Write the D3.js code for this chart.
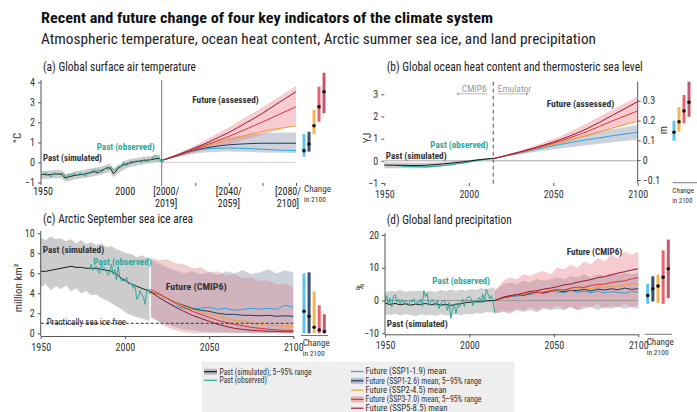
<!DOCTYPE html>
<html><head><meta charset="utf-8">
<script src="https://cdn.jsdelivr.net/npm/d3@7"></script>
<style>
body{margin:0;background:#fff;}
svg{display:block;font-family:"Liberation Sans Narrow","Arial Narrow","Roboto Condensed",sans-serif;}
</style></head><body>
<svg id="c" width="697" height="412"></svg>
<script>
// ---------------- DATA ----------------
const scenarios = ["SSP1-1.9","SSP1-2.6","SSP2-4.5","SSP3-7.0","SSP5-8.5"];
const lineColors = ["#27a9dc","#1d3a63","#f2a02c","#e0303c","#9a1a2c"];
const barColors  = ["#5ac4ea","#33506f","#f5b54c","#e9606e","#c4586a"];

// (a) Global surface air temperature (°C, rel. 1995-2014)
const aPastYears = d3.range(1950, 2020);
const aSim = [-0.62,-0.60,-0.60,-0.61,-0.62,-0.60,-0.60,-0.58,-0.58,-0.58,
  -0.57,-0.58,-0.60,-0.68,-0.78,-0.76,-0.72,-0.70,-0.68,-0.66,
  -0.64,-0.63,-0.62,-0.60,-0.60,-0.58,-0.56,-0.54,-0.52,-0.50,
  -0.48,-0.46,-0.50,-0.52,-0.45,-0.40,-0.36,-0.32,-0.28,-0.27,
  -0.26,-0.40,-0.56,-0.48,-0.36,-0.28,-0.22,-0.16,-0.12,-0.10,
  -0.06,-0.04,-0.02,0.00,0.02,0.04,0.05,0.06,0.08,0.09,
  0.10,0.11,0.12,0.13,0.14,0.16,0.18,0.19,0.20,0.21];
const aObs = [-0.66,-0.58,-0.56,-0.50,-0.64,-0.66,-0.72,-0.56,-0.52,-0.56,
  -0.60,-0.54,-0.56,-0.54,-0.72,-0.68,-0.62,-0.60,-0.64,-0.54,
  -0.56,-0.66,-0.58,-0.48,-0.64,-0.62,-0.70,-0.48,-0.54,-0.46,
  -0.40,-0.36,-0.48,-0.34,-0.46,-0.48,-0.42,-0.30,-0.26,-0.36,
  -0.22,-0.24,-0.38,-0.34,-0.28,-0.18,-0.26,-0.14,0.04,-0.14,
  -0.14,-0.02,0.04,0.05,0.01,0.10,0.06,0.08,-0.01,0.10,
  0.16,0.03,0.08,0.12,0.16,0.28,0.36,0.30,0.22,0.10];
const aBandYears = [1950,1955,1960,1962,1964,1966,1970,1975,1980,1985,1990,1992,1994,2000,2005,2010,2015,2019];
const aBandLo = [-0.82,-0.80,-0.78,-0.80,-0.96,-0.92,-0.84,-0.78,-0.70,-0.60,-0.46,-0.74,-0.58,-0.26,-0.16,-0.08,-0.02,0.02];
const aBandHi = [-0.42,-0.40,-0.38,-0.40,-0.58,-0.54,-0.44,-0.38,-0.28,-0.20,-0.06,-0.34,-0.18,0.14,0.22,0.29,0.34,0.38];
const aObsFillYears = [2000,2002,2004,2006,2008,2010,2012,2014,2016,2019];
const aObsFill = [0.02,0.05,0.06,0.08,0.08,0.14,0.12,0.18,0.32,0.10];
const aFutYears = [2000,2010,2020,2030,2040,2050,2060,2070,2080];
const aFutLabels = [["[2000/","2019]"],["[2040/","2059]"],["[2080/","2100]"]];
const aFutLabelYears = [2000,2040,2080];
const aF119 = [0.1,0.35,0.6,0.7,0.72,0.7,0.66,0.62,0.59];
const aF126 = [0.1,0.36,0.62,0.78,0.88,0.93,0.96,0.96,0.96];
const aF245 = [0.1,0.37,0.65,0.9,1.12,1.35,1.55,1.7,1.82];
const aF370 = [0.1,0.37,0.66,0.98,1.3,1.65,2.02,2.4,2.78];
const aF585 = [0.1,0.4,0.72,1.1,1.5,1.96,2.45,3.0,3.53];
const aB370Lo = [0.1,0.3,0.5,0.7,0.92,1.15,1.38,1.62,1.87];
const aB370Hi = [0.1,0.45,0.85,1.3,1.75,2.25,2.75,3.28,3.82];
const aB126Lo = [0.1,0.28,0.45,0.52,0.55,0.53,0.5,0.48,0.47];
const aB126Hi = [0.1,0.45,0.82,1.05,1.25,1.38,1.45,1.48,1.49];
const aChgMid = [0.59,0.92,1.83,2.78,3.53];
const aChgLo  = [0.29,0.54,1.42,2.03,2.45];
const aChgHi  = [1.42,1.53,2.62,3.78,4.48];
const aYTicks = [-1,0,1,2,3,4];

// (b) Ocean heat content (YJ) / thermosteric sea level (m)
const bSimYears = [1950,1955,1960,1965,1970,1975,1980,1985,1990,1995,2000,2005,2010,2014.5];
const bSim = [-0.19,-0.2,-0.2,-0.21,-0.21,-0.2,-0.17,-0.14,-0.1,-0.06,-0.01,0.04,0.08,0.11];
const bBandLo = [-0.33,-0.33,-0.34,-0.34,-0.33,-0.31,-0.27,-0.23,-0.18,-0.12,-0.06,0.0,0.05,0.09];
const bBandHi = [-0.06,-0.07,-0.07,-0.08,-0.09,-0.09,-0.08,-0.06,-0.03,0.0,0.03,0.07,0.1,0.13];
const bObsYears = [1958,1962,1966,1970,1974,1978,1982,1986,1990,1994,1998,2002,2006,2010,2014.5];
const bObs = [-0.22,-0.24,-0.25,-0.26,-0.27,-0.26,-0.24,-0.21,-0.17,-0.12,-0.08,-0.03,0.02,0.07,0.11];
const bFutYears = [2014.5,2030,2050,2070,2085,2100];
const bF119 = [0.1,0.35,0.68,0.95,1.13,1.29];
const bF245 = [0.1,0.37,0.75,1.15,1.48,1.79];
const bF370 = [0.1,0.38,0.8,1.32,1.8,2.25];
const bF585 = [0.1,0.4,0.85,1.45,2.05,2.67];
const bB370Lo = [0.1,0.33,0.68,1.1,1.45,1.8];
const bB370Hi = [0.1,0.45,0.98,1.7,2.3,2.9];
const bBGrayLo = [0.1,0.28,0.52,0.7,0.84,0.95];
const bBGrayHi = [0.1,0.4,0.8,1.2,1.42,1.62];
const bChgScen = [0,2,3,4];
const bChgMid = [0.141,0.194,0.248,0.292];
const bChgLo  = [0.098,0.144,0.186,0.219];
const bChgHi  = [0.199,0.267,0.329,0.396];
const bYTicks = [-1,0,1,2,3];
const bMTicks = [-0.1,0,0.1,0.2,0.3];
const xTicks = [1950,2000,2050,2100];

// (c) Arctic September sea ice area (million km²)
const cdPastYears = [1950,1953,1956,1959,1962,1965,1968,1971,1974,1977,1980,1983,1986,1989,1992,1995,1998,2001,2004,2007,2010,2015];
const cSim = [6.2,6.2,6.3,6.4,6.5,6.6,6.7,6.6,6.6,6.5,6.5,6.5,6.4,6.3,6.2,5.9,5.5,5.2,4.9,4.7,4.5,4.2];
const cBandHi = [9.6,9.3,9.7,9.4,9.5,9.2,9.4,9.0,9.3,8.9,9.1,8.8,9.0,8.6,8.7,8.4,8.2,8.0,7.9,7.6,7.8,7.4];
const cBandLo = [4.6,4.9,4.3,4.7,4.4,4.8,4.2,4.5,4.0,4.2,3.8,3.9,3.5,3.3,3.0,2.7,2.4,2.0,1.8,1.6,1.5,1.2];
const cObsYears = d3.range(1979, 2016);
const cObs = [6.4,6.9,6.3,6.6,6.7,6.2,6.0,6.8,6.6,6.5,6.3,5.8,6.0,6.9,5.9,6.4,5.3,6.7,5.6,5.2,5.3,5.2,5.6,4.9,5.0,5.0,4.5,4.9,3.4,3.6,4.3,3.9,3.6,2.9,4.3,4.4,3.9];
const cFutYears = [2015,2020,2025,2030,2035,2040,2045,2050,2055,2060,2065,2070,2075,2080,2085,2090,2095,2100];
const cF119 = [4.2,3.6,3.1,2.7,2.5,2.4,2.5,2.6,2.4,2.5,2.3,2.4,2.5,2.4,2.5,2.4,2.8,2.6];
const cF126 = [4.1,3.9,3.5,3.1,2.8,2.5,2.3,2.2,2.0,1.9,1.9,1.8,1.8,1.75,1.8,1.7,1.75,1.7];
const cF245 = [4.2,3.9,3.5,3.1,2.7,2.4,2.1,1.9,1.7,1.5,1.3,1.2,1.0,0.9,0.8,0.75,0.7,0.65];
const cF370 = [4.4,4.0,3.5,3.0,2.6,2.2,1.9,1.6,1.3,1.1,0.9,0.75,0.6,0.5,0.4,0.35,0.3,0.3];
const cF585 = [4.2,3.6,3.1,2.6,2.2,1.8,1.5,1.2,0.9,0.7,0.5,0.4,0.3,0.25,0.2,0.2,0.15,0.15];
const cB370Hi = [7.6,7.3,7.4,7.0,6.9,6.5,6.6,6.1,6.2,5.8,5.9,5.5,5.6,5.2,5.3,4.9,5.0,4.6];
const cB370Lo = [1.8,1.1,0.6,0.3,0.1,0,0,0,0,0,0,0,0,0,0,0,0,0];
const cB126Hi = [7.4,7.0,6.6,6.3,6.0,6.2,5.9,6.1,5.8,6.2,6.0,6.3,5.9,6.1,6.4,6.0,6.3,6.1];
const cB126Lo = [1.6,1.2,0.9,0.6,0.4,0.3,0.2,0.15,0.1,0.1,0.05,0.05,0,0,0,0,0,0];
const cIceFree = 1;
const cChgMid = [2.2,1.7,0.6,0.33,0.17];
const cChgLo  = [0,0,0,0,0];
const cChgHi  = [6.0,6.1,4.2,2.8,1.9];
const cYTicks = [0,2,4,6,8,10];

// (d) Global land precipitation (%)
const dSim = [-0.8,-1.2,-0.9,-1.3,-1.0,-1.4,-1.1,-1.2,-0.9,-1.3,-1.0,-1.4,-1.2,-1.5,-1.1,-1.0,-0.6,-0.5,-0.3,-0.4,-0.1,0.0];
const dBandHi = [2.5,3.0,2.8,3.2,2.6,3.0,2.8,3.1,2.7,3.0,2.6,3.2,2.8,3.4,2.9,3.3,3.0,3.5,3.2,3.8,3.5,4.0];
const dBandLo = [-4.2,-4.5,-4.0,-4.6,-4.2,-4.4,-4.8,-4.2,-4.5,-4.3,-4.7,-4.1,-4.6,-4.4,-4.2,-4.5,-4.0,-4.3,-3.8,-4.0,-3.5,-3.8];
const dObsYears = d3.range(1950, 2016);
const dObs = [-0.5,1.5,-1.0,0.8,-2.0,1.2,1.8,-0.5,0.5,-1.0,
  0.3,-0.8,0.2,-0.6,-1.5,0.2,-0.5,0.6,-1.2,-0.4,
  -0.8,0.5,-1.8,3.0,1.2,2.2,-1.5,-0.5,0.4,-0.8,
  -1.5,0.2,-2.5,-1.0,-0.3,0.2,-1.2,-3.0,-0.5,-5.5,
  -2.5,-1.0,-4.0,-1.5,-2.0,-0.8,0.5,-1.8,0.2,1.0,
  1.2,0.5,-1.5,0.0,-0.8,0.3,1.0,-0.6,2.0,-0.5,
  3.5,2.0,0.5,1.5,-0.5,-3.5];
const dFutYears = [2015,2020,2024,2028,2032,2036,2040,2044,2048,2052,2056,2060,2064,2068,2072,2076,2080,2084,2088,2092,2096,2100];
const dF119 = [0,0.8,1.5,1.2,2.0,1.8,2.5,2.2,3.0,2.6,2.4,3.0,2.5,2.8,2.4,2.9,2.3,2.7,2.5,2.2,2.8,2.5];
const dF126 = [0,1.0,1.2,1.8,1.5,2.2,2.5,2.3,2.8,3.0,2.7,3.2,3.0,3.4,2.9,3.5,3.2,3.6,3.3,3.8,3.4,3.6];
const dF245 = [0,0.9,1.4,1.6,2.0,2.4,2.2,2.8,3.0,2.8,3.4,3.2,3.6,3.9,3.6,4.2,4.0,4.5,4.3,4.8,5.2,5.0];
const dF370 = [0,0.8,1.2,1.7,1.6,2.3,2.6,2.5,3.0,3.4,3.2,3.8,4.1,4.0,4.6,4.9,5.0,5.5,5.8,6.0,6.6,7.0];
const dF585 = [0,1.0,1.5,1.8,2.3,2.8,3.0,3.5,3.8,4.2,4.8,5.0,5.6,6.0,6.4,7.0,7.3,7.8,8.4,8.8,9.3,9.7];
const dB370Hi = [3,6,7,6.5,8,7.5,8.5,9,8,10,9.5,11,10,12,11,13,12,14,13,15,14,15];
const dB370Lo = [-4,-3,-3.5,-2.5,-3,-2,-3,-2,-2.5,-1.5,-2.5,-2,-3,-1.5,-2,-1,-2.5,-1.5,-2,-1,-2,-1.5];
const dB126Hi = [3,5,5.5,5,6,5.5,6.5,6,6.5,7,6.5,7.5,7,8,7,8,7.5,8.5,8,8.5,8,8.5];
const dB126Lo = [-4,-3.5,-4,-3,-3.5,-3,-3.5,-2.5,-3,-2.5,-3,-2,-3,-2.5,-2,-3,-2,-2.5,-2,-2.5,-2,-2.5];
const dChgMid = [1.5,3.6,4.4,7.1,9.7];
const dChgLo  = [-1,-0.3,-0.7,-1,0.7];
const dChgHi  = [5.1,7.4,7.9,15.3,18.6];
const dYTicks = [-10,0,10,20];

const legendLeft = ["Past (simulated); 5–95% range","Past (observed)"];
const legendRight = ["Future (SSP1-1.9) mean","Future (SSP1-2.6) mean; 5–95% range","Future (SSP2-4.5) mean","Future (SSP3-7.0) mean; 5–95% range","Future (SSP5-8.5) mean"];

// ---------------- DRAWING ----------------
const svg = d3.select("#c");
const OBS = "#2fa89c", SIM = "#1a1a1a";
const GRAYBAND = "#9a9a9a", BLUEBAND = "#8d9ab0", PINKBAND = "#e8808a";
const fmt = d3.format("~g");

function txt(x, y, s, o = {}) {
  const t = svg.append("text").attr("x", x).attr("y", y).attr("dy", "0.35em").text(s)
    .attr("font-size", o.size || 10).attr("fill", o.fill || "#222")
    .attr("font-weight", o.weight || "normal").attr("text-anchor", o.anchor || "start");
  if (o.w) t.attr("textLength", o.w).attr("lengthAdjust", "spacingAndGlyphs");
  if (o.rot) t.attr("transform", `rotate(${o.rot},${x},${y})`);
  return t;
}
function drawLine(years, vals, x, y, color, w = 1, curve = d3.curveLinear) {
  svg.append("path").datum(d3.zip(years, vals))
    .attr("d", d3.line().x(d => x(d[0])).y(d => y(d[1])).curve(curve))
    .attr("fill", "none").attr("stroke", color).attr("stroke-width", w).attr("stroke-linejoin", "round");
}
function drawBand(years, lo, hi, x, y, fill, op, curve = d3.curveLinear) {
  svg.append("path").datum(d3.zip(years, lo, hi))
    .attr("d", d3.area().x(d => x(d[0])).y0(d => y(d[1])).y1(d => y(d[2])).curve(curve))
    .attr("fill", fill).attr("opacity", op);
}
function hline(x1, x2, y, color, w = 1, dash = null) {
  const l = svg.append("line").attr("x1", x1).attr("x2", x2).attr("y1", y).attr("y2", y)
    .attr("stroke", color).attr("stroke-width", w);
  if (dash) l.attr("stroke-dasharray", dash);
}
function vline(x, y1, y2, color, w = 1, dash = null) {
  const l = svg.append("line").attr("x1", x).attr("x2", x).attr("y1", y1).attr("y2", y2)
    .attr("stroke", color).attr("stroke-width", w);
  if (dash) l.attr("stroke-dasharray", dash);
}
function styleAxis(g, keepDomain = false) {
  g.attr("font-family", null).attr("font-size", null);
  if (!keepDomain) g.select(".domain").remove();
  else g.select(".domain").attr("stroke", "#555");
  g.selectAll(".tick line").attr("stroke", "#555");
  g.selectAll(".tick text").attr("font-size", 10).attr("fill", "#333");
}
function drawChange(xs, y, lo, hi, mid, idx) {
  idx.forEach((k, i) => {
    const x = xs(scenarios[k]);
    svg.append("line").attr("x1", x).attr("x2", x).attr("y1", y(lo[i])).attr("y2", y(hi[i]))
      .attr("stroke", barColors[k]).attr("stroke-width", 3);
    svg.append("circle").attr("cx", x).attr("cy", y(mid[i])).attr("r", 1.8).attr("fill", "#111");
  });
}
function changeLabel(x, y, wc = 27, wi = 22, sc = 9.5, si = 7.5) {
  txt(x, y, "Change", { size: sc, fill: "#333", w: wc });
  txt(x, y + 11, "in 2100", { size: si, fill: "#333", w: wi });
}

// Titles
svg.append("text").attr("x", 41).attr("y", 23).text("Recent and future change of four key indicators of the climate system")
  .attr("font-size", 15).attr("font-weight", "bold").attr("fill", "#111")
  .attr("textLength", 452).attr("lengthAdjust", "spacingAndGlyphs");
svg.append("text").attr("x", 41).attr("y", 43.5).text("Atmospheric temperature, ocean heat content, Arctic summer sea ice, and land precipitation")
  .attr("font-size", 15.5).attr("fill", "#222")
  .attr("textLength", 555).attr("lengthAdjust", "spacingAndGlyphs");

// ===== Panel (a) =====
const xPA = d3.scaleLinear().domain([1950, 2020]).range([41, 161.7]);
const xFA = d3.scaleLinear().domain([2000, 2080]).range([161.7, 296]);
const yA = d3.scaleLinear().domain([-1, 4]).range([182.5, 82.3]);
txt(43, 67, "(a) Global surface air temperature", { size: 12, w: 153 });
hline(161.7, 296, yA(0), "#d0d0d0", 1);
drawBand(aFutYears, aB126Lo, aB126Hi, xFA, yA, BLUEBAND, 0.45, d3.curveMonotoneX);
drawBand(aFutYears, aB370Lo, aB370Hi, xFA, yA, PINKBAND, 0.4, d3.curveMonotoneX);
[aF119, aF126, aF245, aF370, aF585].forEach((s, i) => drawLine(aFutYears, s, xFA, yA, lineColors[i], 1, d3.curveMonotoneX));
drawBand(aObsFillYears, aObsFillYears.map(() => 0), aObsFill, xPA, yA, OBS, 0.18);
drawBand(aBandYears, aBandLo, aBandHi, xPA, yA, GRAYBAND, 0.5);
drawLine(aPastYears, aSim, xPA, yA, SIM, 1);
drawLine(aPastYears, aObs, xPA, yA, OBS, 1);
svg.append("circle").attr("cx", xFA(2000)).attr("cy", yA(aF119[0])).attr("r", 2).attr("fill", OBS);
vline(161.7, 80, 186, "#777", 1);
vline(41, 80, 185, "#555", 1);
svg.append("g").attr("transform", "translate(41,0)")
  .call(d3.axisLeft(yA).tickValues(aYTicks).tickSize(3).tickPadding(3).tickFormat(fmt)).call(styleAxis);
svg.append("g").attr("transform", "translate(0,183)")
  .call(d3.axisBottom(xFA).tickValues([2020, 2040, 2060, 2080]).tickSize(3).tickFormat("")).call(styleAxis);
txt(xPA(1950) + 2, 191.7, "1950", { anchor: "middle" });
txt(xPA(2000) - 2, 191.7, "2000", { anchor: "middle" });
const aLabelShift = [4.5, 0, -8];
aFutLabelYears.forEach((yr, i) => {
  txt(xFA(yr) + aLabelShift[i], 191.7, aFutLabels[i][0], { anchor: "middle" });
  txt(xFA(yr) + aLabelShift[i], 203.3, aFutLabels[i][1], { anchor: "middle" });
});
txt(17, 138, "°C", { size: 11, anchor: "middle", rot: -90, fill: "#333" });
txt(43, 157.3, "Past (simulated)", { size: 9.5, weight: "bold", fill: "#333", w: 59 });
txt(96.7, 146.7, "Past (observed)", { size: 9.5, weight: "bold", fill: OBS, w: 58 });
txt(192.3, 99.3, "Future (assessed)", { size: 9.5, weight: "bold", fill: "#333", w: 66.5 });
const xsA = d3.scalePoint().domain(scenarios).range([304, 324]);
drawChange(xsA, yA, aChgLo, aChgHi, aChgMid, [0, 1, 2, 3, 4]);
changeLabel(304, 188.3);

// ===== Panel (b) =====
const xB = d3.scaleLinear().domain([1950, 2100]).range([384.3, 637.7]);
const yB = d3.scaleLinear().domain([-1, 3]).range([183, 94.3]);
const mB = d3.scaleLinear().domain([-0.1, 0.3]).range([180, 100.7]);
txt(386.7, 67, "(b) Global ocean heat content and thermosteric sea level", { size: 12, w: 256 });
hline(384.3, 637.7, yB(0), "#aaa", 1);
drawBand(bFutYears, bBGrayLo, bBGrayHi, xB, yB, BLUEBAND, 0.45, d3.curveMonotoneX);
drawBand(bFutYears, bB370Lo, bB370Hi, xB, yB, PINKBAND, 0.4, d3.curveMonotoneX);
[[bF119, 0], [bF245, 2], [bF370, 3], [bF585, 4]].forEach(([s, k]) => drawLine(bFutYears, s, xB, yB, lineColors[k], 1, d3.curveMonotoneX));
drawBand(bSimYears, bBandLo, bBandHi, xB, yB, GRAYBAND, 0.5, d3.curveMonotoneX);
drawLine(bObsYears, bObs, xB, yB, OBS, 1.2, d3.curveMonotoneX);
drawLine(bSimYears, bSim, xB, yB, SIM, 1, d3.curveMonotoneX);
vline(xB(2014.5), 81.7, 186.7, "#555", 1, "4,3");
vline(637.7, 81.7, 183, "#555", 1);
svg.append("g").attr("transform", "translate(384.3,0)")
  .call(d3.axisLeft(yB).tickValues(bYTicks).tickSize(3).tickPadding(3).tickFormat(fmt)).call(styleAxis);
svg.append("g").attr("transform", "translate(637.7,0)")
  .call(d3.axisRight(mB).tickValues(bMTicks).tickSize(3).tickPadding(2).tickFormat(fmt)).call(styleAxis);
svg.append("g").attr("transform", "translate(0,183)")
  .call(d3.axisBottom(xB).tickValues(xTicks).tickSize(3).tickPadding(5).tickFormat(d3.format("d"))).call(styleAxis);
txt(366.7, 138, "YJ", { size: 11, anchor: "middle", rot: -90, fill: "#333" });
txt(663.3, 130, "m", { size: 11, anchor: "middle", rot: -90, fill: "#333" });
txt(486.7, 88.3, "CMIP6", { size: 9.5, anchor: "end", fill: "#999" });
txt(497.7, 88.3, "Emulator", { size: 9.5, fill: "#999" });
hline(458, 487, 93.8, "#aaa", 0.8);
hline(497.7, 527, 93.8, "#aaa", 0.8);
svg.append("path").attr("d", "M456,93.8 l3,-1.6 v3.2 z").attr("fill", "#aaa");
svg.append("path").attr("d", "M529,93.8 l-3,-1.6 v3.2 z").attr("fill", "#aaa");
txt(385.7, 156, "Past (simulated)", { size: 9.5, weight: "bold", fill: "#333", w: 61 });
txt(488.3, 144.3, "Past (observed)", { size: 9.5, weight: "bold", fill: OBS, anchor: "end", w: 58 });
txt(546.7, 103.3, "Future (assessed)", { size: 9.5, weight: "bold", fill: "#333", w: 67.5 });
const xsB = d3.scalePoint().domain(bChgScen.map(k => scenarios[k])).range([674, 689]);
drawChange(xsB, mB, bChgLo, bChgHi, bChgMid, bChgScen);
hline(672.7, 697, 182.7, "#555", 0.8);
changeLabel(672.3, 190, 21.5, 20, 8, 7);

// ===== Panel (c) =====
const xC = d3.scaleLinear().domain([1950, 2100]).range([40.7, 293.3]);
const yC = d3.scaleLinear().domain([0, 10]).range([333.3, 233.3]);
txt(43, 218.3, "(c) Arctic September sea ice area", { size: 12, w: 150 });
drawBand(cdPastYears, cBandLo, cBandHi, xC, yC, GRAYBAND, 0.5);
drawBand(cFutYears, cB126Lo, cB126Hi, xC, yC, BLUEBAND, 0.45);
drawBand(cFutYears, cB370Lo, cB370Hi, xC, yC, "#d98890", 0.4);
vline(xC(2015), 233.3, 333.3, "#fff", 1.5);
[cF119, cF126, cF245, cF370, cF585].forEach((s, i) => drawLine(cFutYears, s, xC, yC, lineColors[i], 1));
drawLine(cdPastYears, cSim, xC, yC, SIM, 1);
drawLine(cObsYears, cObs, xC, yC, OBS, 1);
hline(40.7, 293.3, yC(cIceFree), "#333", 1, "3,2");
vline(40.7, 231, 336, "#555", 1);
svg.append("g").attr("transform", "translate(40.7,0)")
  .call(d3.axisLeft(yC).tickValues(cYTicks).tickSize(3).tickPadding(3).tickFormat(fmt)).call(styleAxis);
svg.append("g").attr("transform", "translate(0,336)")
  .call(d3.axisBottom(xC).tickValues(xTicks).tickSize(3).tickSizeOuter(0).tickPadding(5).tickFormat(d3.format("d"))).call(g => styleAxis(g, true));
txt(18, 288, "million km²", { size: 11, anchor: "middle", rot: -90, fill: "#333" });
txt(42.7, 249.3, "Past (simulated)", { size: 9.5, weight: "bold", fill: "#333", w: 61.5 });
txt(93.3, 261.7, "Past (observed)", { size: 9.5, weight: "bold", fill: OBS, w: 58.4 });
txt(165.7, 286.7, "Future (CMIP6)", { size: 9.5, weight: "bold", fill: "#333", w: 61 });
txt(46.7, 321.7, "Practically sea ice free", { size: 9.5, fill: "#222", w: 79.3 });
const xsC = d3.scalePoint().domain(scenarios).range([304, 324.3]);
drawChange(xsC, yC, cChgLo, cChgHi, cChgMid, [0, 1, 2, 3, 4]);
hline(301, 328, 335.5, "#555", 0.8);
changeLabel(302.7, 342.3);

// ===== Panel (d) =====
const xD = d3.scaleLinear().domain([1950, 2100]).range([385, 638.3]);
const yD = d3.scaleLinear().domain([-10, 20]).range([333.3, 235]);
txt(386.7, 219.3, "(d) Global land precipitation", { size: 12, w: 125 });
drawBand(cdPastYears, dBandLo, dBandHi, xD, yD, GRAYBAND, 0.45);
drawBand(dFutYears, dB126Lo, dB126Hi, xD, yD, BLUEBAND, 0.45);
drawBand(dFutYears, dB370Lo, dB370Hi, xD, yD, PINKBAND, 0.4);
hline(385, 638.3, yD(0), "#999", 1);
[dF119, dF126, dF245, dF370, dF585].forEach((s, i) => drawLine(dFutYears, s, xD, yD, lineColors[i], 1));
drawLine(cdPastYears, dSim, xD, yD, SIM, 1);
drawLine(dObsYears, dObs, xD, yD, OBS, 1);
vline(385, 233, 334.3, "#555", 1);
svg.append("g").attr("transform", "translate(385,0)")
  .call(d3.axisLeft(yD).tickValues(dYTicks).tickSize(3).tickPadding(3).tickFormat(fmt)).call(styleAxis);
svg.append("g").attr("transform", "translate(0,334.3)")
  .call(d3.axisBottom(xD).tickValues(xTicks).tickSize(3).tickSizeOuter(0).tickPadding(5).tickFormat(d3.format("d"))).call(g => styleAxis(g, true));
txt(360, 287, "%", { size: 11, anchor: "middle", rot: -90, fill: "#333" });
txt(566.7, 251.7, "Future (CMIP6)", { size: 9.5, weight: "bold", fill: "#333", w: 55.6 });
txt(432.3, 281, "Past (observed)", { size: 9.5, weight: "bold", fill: OBS, w: 57.7 });
txt(386.7, 324, "Past (simulated)", { size: 9.5, weight: "bold", fill: "#333", w: 61 });
const xsD = d3.scalePoint().domain(scenarios).range([647.7, 668.3]);
drawChange(xsD, yD, dChgLo, dChgHi, dChgMid, [0, 1, 2, 3, 4]);
hline(645, 672, 334.3, "#555", 0.8);
changeLabel(646.7, 341.5);

// ===== Legend =====
svg.append("rect").attr("x", 201.7).attr("y", 361.7).attr("width", 312.6).attr("height", 60).attr("fill", "#eeeeee");
const legY1 = [371.7, 380.3];
const legW1 = [92, 47.5];
legendLeft.forEach((s, i) => {
  if (i === 0) svg.append("rect").attr("x", 204).attr("y", legY1[i] - 3).attr("width", 13).attr("height", 6).attr("fill", GRAYBAND).attr("opacity", 0.6);
  hline(204, 217, legY1[i], i === 0 ? SIM : OBS, 1.2);
  txt(219.5, legY1[i], s, { size: 8.3, fill: "#333", w: legW1[i] });
});
const legY2 = [371.5, 380.8, 390.1, 399.4, 408.2];
const legW2 = [81, 116, 81, 116, 82];
legendRight.forEach((s, i) => {
  if (i === 1) svg.append("rect").attr("x", 351).attr("y", legY2[i] - 3).attr("width", 12.5).attr("height", 6).attr("fill", BLUEBAND).attr("opacity", 0.6);
  if (i === 3) svg.append("rect").attr("x", 351).attr("y", legY2[i] - 3).attr("width", 12.5).attr("height", 6).attr("fill", PINKBAND).attr("opacity", 0.55);
  hline(351, 363.5, legY2[i], lineColors[i], 1.2);
  txt(365.5, legY2[i], s, { size: 8.3, fill: "#333", w: legW2[i] });
});
</script></body></html>
